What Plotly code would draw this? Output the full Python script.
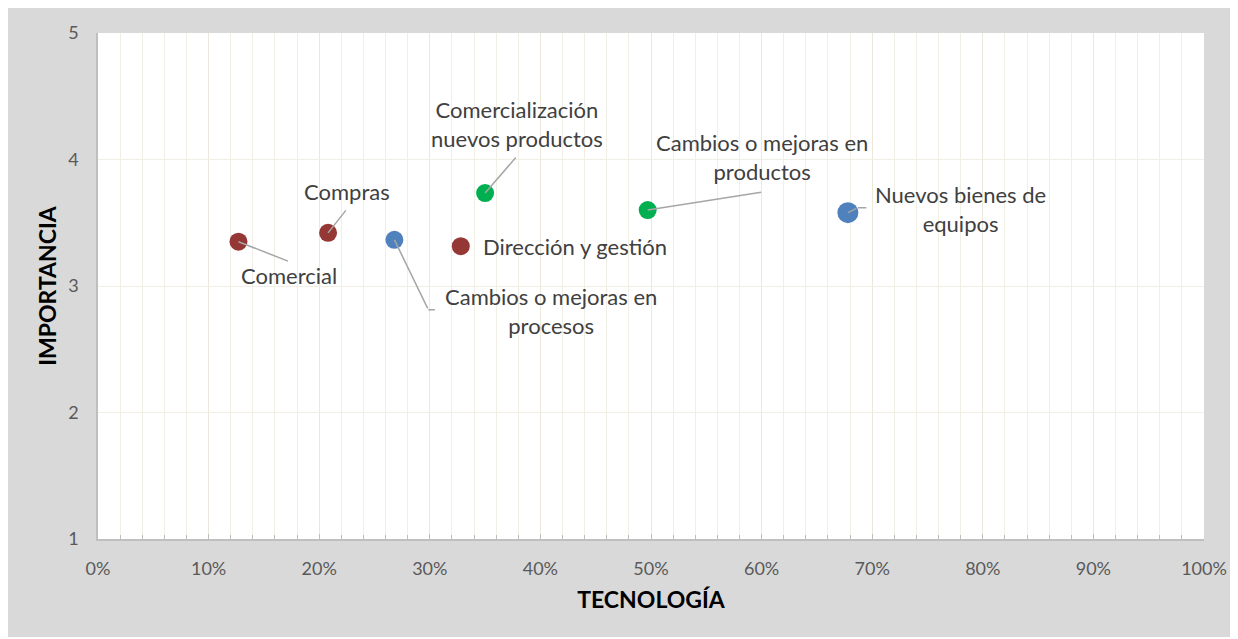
import plotly.graph_objects as go

# data
etiquetas = ["Comercial", "Compras", "Cambios o mejoras en<br>procesos", "Dirección y gestión",
             "Comercialización<br>nuevos productos", "Cambios o mejoras en<br>productos",
             "Nuevos bienes de<br>equipos"]
tecnologia = [0.127, 0.208, 0.268, 0.328, 0.350, 0.497, 0.678]
importancia = [3.35, 3.42, 3.365, 3.315, 3.735, 3.60, 3.58]
colores = ["#953735", "#953735", "#4f81bd", "#953735", "#00b050", "#00b050", "#4f81bd"]
tamanos = [18, 18, 18, 18, 18, 18, 21]

# label offsets (px from the point) and leader line ends
label_off = [(51, 34), (19, -41), (157, 71), (114, 0), (32, -69), (114, -53), (113, -4)]
leader_off = [(51, 20), (19, -24), (34, 70), None, (32, -37), (115, -18), (10, -5)]
# horizontal elbows at the end of some leader lines
elbow = {2: 8, 6: 10}

FONT = "Lato"

fig = go.Figure()
fig.add_trace(go.Scatter(x=tecnologia, y=importancia, mode="markers",
                         marker=dict(size=tamanos, color=colores, opacity=1, line=dict(width=0)),
                         showlegend=False, hoverinfo="skip"))

for i, txt in enumerate(etiquetas):
    dx, dy = label_off[i]
    fig.add_annotation(x=tecnologia[i], y=importancia[i], text=txt, showarrow=False,
                       xshift=dx, yshift=-dy, font=dict(family=FONT, size=22, color="#404040"),
                       align="center")
    if leader_off[i] is not None:
        lx, ly = leader_off[i]
        fig.add_annotation(x=tecnologia[i], y=importancia[i], text="", showarrow=True,
                           ax=lx, ay=ly, arrowhead=0, arrowwidth=1.5, arrowcolor="#a6a6a6",
                           standoff=0, startstandoff=0)
        if i in elbow:
            fig.add_annotation(x=tecnologia[i], y=importancia[i], text="", showarrow=True,
                               xshift=lx, yshift=-ly, ax=elbow[i], ay=0, arrowhead=0,
                               arrowwidth=1.5, arrowcolor="#a6a6a6", standoff=0, startstandoff=0)

fig.update_xaxes(range=[0, 1], dtick=0.1, tickformat=".0%",
                 showgrid=True, gridcolor="#ede8dc", gridwidth=1.3,
                 minor=dict(dtick=0.02, showgrid=True, gridcolor="#f1eee6", gridwidth=1.2,
                            ticks="inside", ticklen=4, tickcolor="#bfbfbf"),
                 ticks="inside", ticklen=5, tickcolor="#bfbfbf",
                 showline=True, linecolor="#bfbfbf", linewidth=1.5, zeroline=False,
                 ticklabelstandoff=13,
                 tickfont=dict(family=FONT, size=18, color="#595959"),
                 title=dict(text="<b>TECNOLOGÍA</b>", standoff=14,
                            font=dict(family=FONT, size=23, color="#000000")))
fig.update_yaxes(range=[1, 5], dtick=1, showgrid=True, gridcolor="#f1eee6", gridwidth=1.3,
                 showline=True, linecolor="#bfbfbf", linewidth=1.5, zeroline=False,
                 ticks="", ticklabelstandoff=14,
                 tickfont=dict(family=FONT, size=18, color="#595959"),
                 title=dict(text="<b>IMPORTANCIA</b>", standoff=5,
                            font=dict(family=FONT, size=23, color="#000000")))

fig.update_layout(width=1230, height=629, paper_bgcolor="#d9d9d9", plot_bgcolor="white",
                  margin=dict(l=90, r=34, t=25, b=98), showlegend=False)

fig.write_html("out.html")
